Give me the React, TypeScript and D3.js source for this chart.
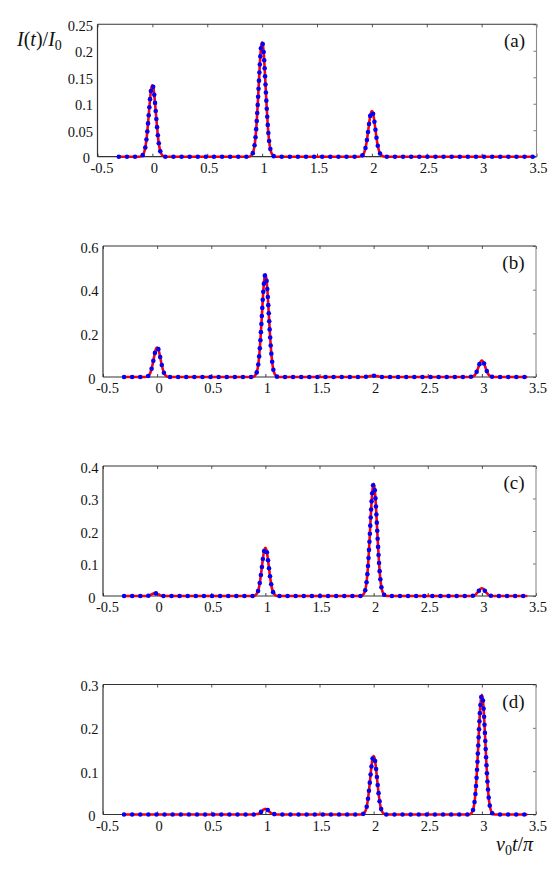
import React, { useEffect, useRef } from 'react';
import * as d3 from 'd3';

// sample grid (in v0t/pi) around every peak centre
const peakOffsets = [-0.12, -0.1, -0.08, -0.07, -0.06, -0.05, -0.04, -0.03, -0.02, -0.01, 0,
  0.01, 0.02, 0.03, 0.04, 0.05, 0.06, 0.07, 0.08, 0.1, 0.12];

// panel (a)
const spanA = [-0.32, 3.47];
const centresA = [0, 1, 2];
const peaksA = [
  [0, 0.001, 0.006, 0.012, 0.023, 0.040, 0.062, 0.087, 0.111, 0.129, 0.135, 0.129, 0.111, 0.087, 0.062, 0.040, 0.023, 0.012, 0.006, 0.001, 0],
  [0, 0.002, 0.010, 0.020, 0.037, 0.064, 0.099, 0.139, 0.178, 0.206, 0.216, 0.206, 0.178, 0.139, 0.099, 0.064, 0.037, 0.020, 0.010, 0.002, 0],
  [0, 0.001, 0.004, 0.008, 0.015, 0.025, 0.039, 0.055, 0.071, 0.082, 0.086, 0.082, 0.071, 0.055, 0.039, 0.025, 0.015, 0.008, 0.004, 0.001, 0],
];

// panel (b)
const spanB = [-0.32, 3.42];
const centresB = [0, 1, 2, 3];
const peaksB = [
  [0, 0.001, 0.006, 0.012, 0.023, 0.040, 0.062, 0.087, 0.111, 0.129, 0.135, 0.129, 0.111, 0.087, 0.062, 0.040, 0.023, 0.012, 0.006, 0.001, 0],
  [0, 0.004, 0.021, 0.043, 0.081, 0.139, 0.215, 0.303, 0.387, 0.447, 0.470, 0.447, 0.387, 0.303, 0.215, 0.139, 0.081, 0.043, 0.021, 0.004, 0],
  [0, 0, 0, 0.001, 0.001, 0.002, 0.003, 0.004, 0.005, 0.006, 0.006, 0.006, 0.005, 0.004, 0.003, 0.002, 0.001, 0.001, 0, 0, 0],
  [0, 0.001, 0.003, 0.007, 0.013, 0.022, 0.034, 0.048, 0.062, 0.071, 0.075, 0.071, 0.062, 0.048, 0.034, 0.022, 0.013, 0.007, 0.003, 0.001, 0],
];

// panel (c)
const spanC = [-0.32, 3.42];
const centresC = [-0.02, 1, 2, 3];
const peaksC = [
  [0, 0, 0, 0.001, 0.001, 0.002, 0.004, 0.005, 0.007, 0.008, 0.008, 0.008, 0.007, 0.005, 0.004, 0.002, 0.001, 0.001, 0, 0, 0],
  [0, 0.001, 0.007, 0.013, 0.025, 0.044, 0.068, 0.095, 0.122, 0.141, 0.148, 0.141, 0.122, 0.095, 0.068, 0.044, 0.025, 0.013, 0.007, 0.001, 0],
  [0, 0.003, 0.015, 0.031, 0.059, 0.102, 0.158, 0.222, 0.284, 0.328, 0.345, 0.328, 0.284, 0.222, 0.158, 0.102, 0.059, 0.031, 0.015, 0.003, 0],
  [0, 0, 0.001, 0.002, 0.004, 0.007, 0.011, 0.015, 0.020, 0.023, 0.024, 0.023, 0.020, 0.015, 0.011, 0.007, 0.004, 0.002, 0.001, 0, 0],
];

// panel (d)
const spanD = [-0.32, 3.42];
const centresD = [1, 2, 3];
const peaksD = [
  [0, 0, 0.001, 0.001, 0.002, 0.004, 0.006, 0.008, 0.011, 0.012, 0.013, 0.012, 0.011, 0.008, 0.006, 0.004, 0.002, 0.001, 0.001, 0, 0],
  [0, 0.001, 0.006, 0.012, 0.023, 0.040, 0.062, 0.087, 0.111, 0.129, 0.135, 0.129, 0.111, 0.087, 0.062, 0.040, 0.023, 0.012, 0.006, 0.001, 0],
  [0, 0.002, 0.012, 0.025, 0.047, 0.081, 0.126, 0.178, 0.227, 0.263, 0.276, 0.263, 0.227, 0.178, 0.126, 0.081, 0.047, 0.025, 0.012, 0.002, 0],
];

const xTicks = [-0.5, 0, 0.5, 1, 1.5, 2, 2.5, 3, 3.5];
const xTickLabels = ['-0.5', '0', '0.5', '1', '1.5', '2', '2.5', '3', '3.5'];

const yTicksA = [0, 0.05, 0.1, 0.15, 0.2, 0.25];
const yLabelsA = ['0', '0.05', '0.1', '0.15', '0.2', '0.25'];
const yTicksB = [0, 0.2, 0.4, 0.6];
const yLabelsB = ['0', '0.2', '0.4', '0.6'];
const yTicksC = [0, 0.1, 0.2, 0.3, 0.4];
const yLabelsC = ['0', '0.1', '0.2', '0.3', '0.4'];
const yTicksD = [0, 0.1, 0.2, 0.3];
const yLabelsD = ['0', '0.1', '0.2', '0.3'];

const panelNames = ['(a)', '(b)', '(c)', '(d)'];

const W = 553;
const H = 872;
const serif = '"Liberation Serif", "Times New Roman", "DejaVu Serif", serif';

const App: React.FC = () => {
  const svgRef = useRef<SVGSVGElement>(null);

  useEffect(() => {
    if (!svgRef.current) return;
    const svg = d3.select(svgRef.current);
    svg.selectAll('*').remove();

    const panels = [
      { span: spanA, centres: centresA, peaks: peaksA, yTicks: yTicksA, yLabels: yLabelsA, yMax: 0.25,
        box: { left: 97.5, right: 536.5, top: 24.3, bottom: 156.7 } },
      { span: spanB, centres: centresB, peaks: peaksB, yTicks: yTicksB, yLabels: yLabelsB, yMax: 0.6,
        box: { left: 103, right: 536, top: 246, bottom: 377 } },
      { span: spanC, centres: centresC, peaks: peaksC, yTicks: yTicksC, yLabels: yLabelsC, yMax: 0.4,
        box: { left: 103, right: 536, top: 466, bottom: 596 } },
      { span: spanD, centres: centresD, peaks: peaksD, yTicks: yTicksD, yLabels: yLabelsD, yMax: 0.3,
        box: { left: 103, right: 536, top: 684.5, bottom: 814.5 } },
    ];

    panels.forEach((p, idx) => {
      const { box } = p;
      const x = d3.scaleLinear().domain([-0.5, 3.5]).range([box.left, box.right]);
      const y = d3.scaleLinear().domain([0, p.yMax]).range([box.bottom, box.top]);

      // build the curve from the span ends and the sampled peaks
      const pts: [number, number][] = [[p.span[0], 0]];
      p.centres.forEach((c, k) => {
        peakOffsets.forEach((o, j) => pts.push([c + o, p.peaks[k][j]]));
      });
      pts.push([p.span[1], 0]);

      const g = svg.append('g');

      // bottom axis (ticks inward)
      const xAxis = g.append('g')
        .attr('transform', `translate(0,${box.bottom})`)
        .call(d3.axisBottom(x).tickValues(xTicks).tickSize(-3)
          .tickFormat((_, i) => xTickLabels[i]))
        .attr('font-family', serif)
        .attr('font-size', 14.5);
      xAxis.select('.domain').remove();
      xAxis.selectAll('.tick line').attr('stroke', '#444').attr('stroke-width', 1);
      xAxis.selectAll<SVGTextElement, number>('.tick text')
        .attr('y', 16.3).attr('dy', null)
        .attr('dx', (d: number) => d === -0.5 ? 4 : 1.5)
        .attr('fill', '#111');

      // top ticks
      const xTop = g.append('g')
        .attr('transform', `translate(0,${box.top})`)
        .call(d3.axisTop(x).tickValues(xTicks).tickSize(-3).tickFormat(() => ''));
      xTop.select('.domain').remove();
      xTop.selectAll('.tick line').attr('stroke', '#555');

      // left labels (the bottom "0" sits a little further out, as in the source)
      const yAxis = g.append('g')
        .attr('transform', `translate(${box.left},0)`)
        .call(d3.axisLeft(y).tickValues(p.yTicks).tickSize(0).tickPadding(4.5)
          .tickFormat((_, i) => p.yLabels[i]))
        .attr('font-family', serif)
        .attr('font-size', 14.5);
      yAxis.select('.domain').remove();
      yAxis.selectAll<SVGTextElement, number>('.tick text')
        .attr('dy', '0.42em')
        .attr('dx', (d: number) => d === 0 ? -3 : 0)
        .attr('fill', '#111');

      // right ticks
      const yRight = g.append('g')
        .attr('transform', `translate(${box.right},0)`)
        .call(d3.axisRight(y).tickValues(p.yTicks).tickSize(-3).tickFormat(() => ''));
      yRight.select('.domain').remove();
      yRight.selectAll('.tick line').attr('stroke', '#777');

      // frame
      g.append('line').attr('x1', box.left).attr('x2', box.right).attr('y1', box.top).attr('y2', box.top)
        .attr('stroke', '#333').attr('stroke-width', 1.1);
      g.append('line').attr('x1', box.right).attr('x2', box.right).attr('y1', box.top).attr('y2', box.bottom)
        .attr('stroke', '#8a8a8a').attr('stroke-width', 1.1);
      g.append('line').attr('x1', box.left).attr('x2', box.left).attr('y1', box.top).attr('y2', box.bottom)
        .attr('stroke', '#333').attr('stroke-width', 1.2);
      g.append('line').attr('x1', box.left).attr('x2', box.right).attr('y1', box.bottom).attr('y2', box.bottom)
        .attr('stroke', '#333').attr('stroke-width', 1.2);

      // red curve
      const line = d3.line<[number, number]>()
        .x(d => x(d[0]))
        .y(d => y(d[1]))
        .curve(d3.curveMonotoneX);

      const path = g.append('path')
        .datum(pts)
        .attr('d', line)
        .attr('fill', 'none')
        .attr('stroke', '#ff0000')
        .attr('stroke-width', 2.6)
        .attr('stroke-linejoin', 'round');

      // blue markers spaced evenly along the drawn curve
      const node = path.node() as SVGPathElement;
      const total = node.getTotalLength();
      const marks: { x: number; y: number }[] = [];
      for (let s = 1.6; s <= total; s += 8.1) {
        const pt = node.getPointAtLength(s);
        marks.push({ x: pt.x, y: pt.y });
      }
      g.selectAll('circle.mark')
        .data(marks)
        .enter().append('circle')
        .attr('class', 'mark')
        .attr('cx', d => d.x)
        .attr('cy', d => d.y)
        .attr('r', 2.3)
        .attr('fill', '#0000ff');

      // panel label
      g.append('text')
        .attr('x', box.right - 11.5)
        .attr('y', box.top + 23)
        .attr('text-anchor', 'end')
        .style('font-family', serif)
        .style('font-size', '19px')
        .attr('fill', '#111')
        .text(panelNames[idx]);
    });

    // y label  I(t)/I0
    const yl = svg.append('text')
      .attr('x', 17).attr('y', 46)
      .style('font-family', serif).style('font-size', '20px').attr('fill', '#111');
    yl.append('tspan').style('font-style', 'italic').text('I');
    yl.append('tspan').text('(');
    yl.append('tspan').style('font-style', 'italic').text('t');
    yl.append('tspan').text(')/');
    yl.append('tspan').style('font-style', 'italic').text('I');
    yl.append('tspan').attr('dy', 4).style('font-size', '14px').text('0');

    // x label  v0 t/pi
    const xl = svg.append('text')
      .attr('x', 496).attr('y', 851)
      .style('font-family', serif).style('font-size', '20px').attr('fill', '#111');
    xl.append('tspan').style('font-style', 'italic').text('v');
    xl.append('tspan').attr('dy', 4).style('font-size', '14px').text('0');
    xl.append('tspan').attr('dy', -4).style('font-style', 'italic').text('t');
    xl.append('tspan').text('/');
    xl.append('tspan').style('font-style', 'italic').text('π');
  }, []);

  return (
    <svg
      ref={svgRef}
      width={W}
      height={H}
      style={{ position: 'absolute', left: 0, top: 0, background: '#fff' }}
    />
  );
};

export default App;
